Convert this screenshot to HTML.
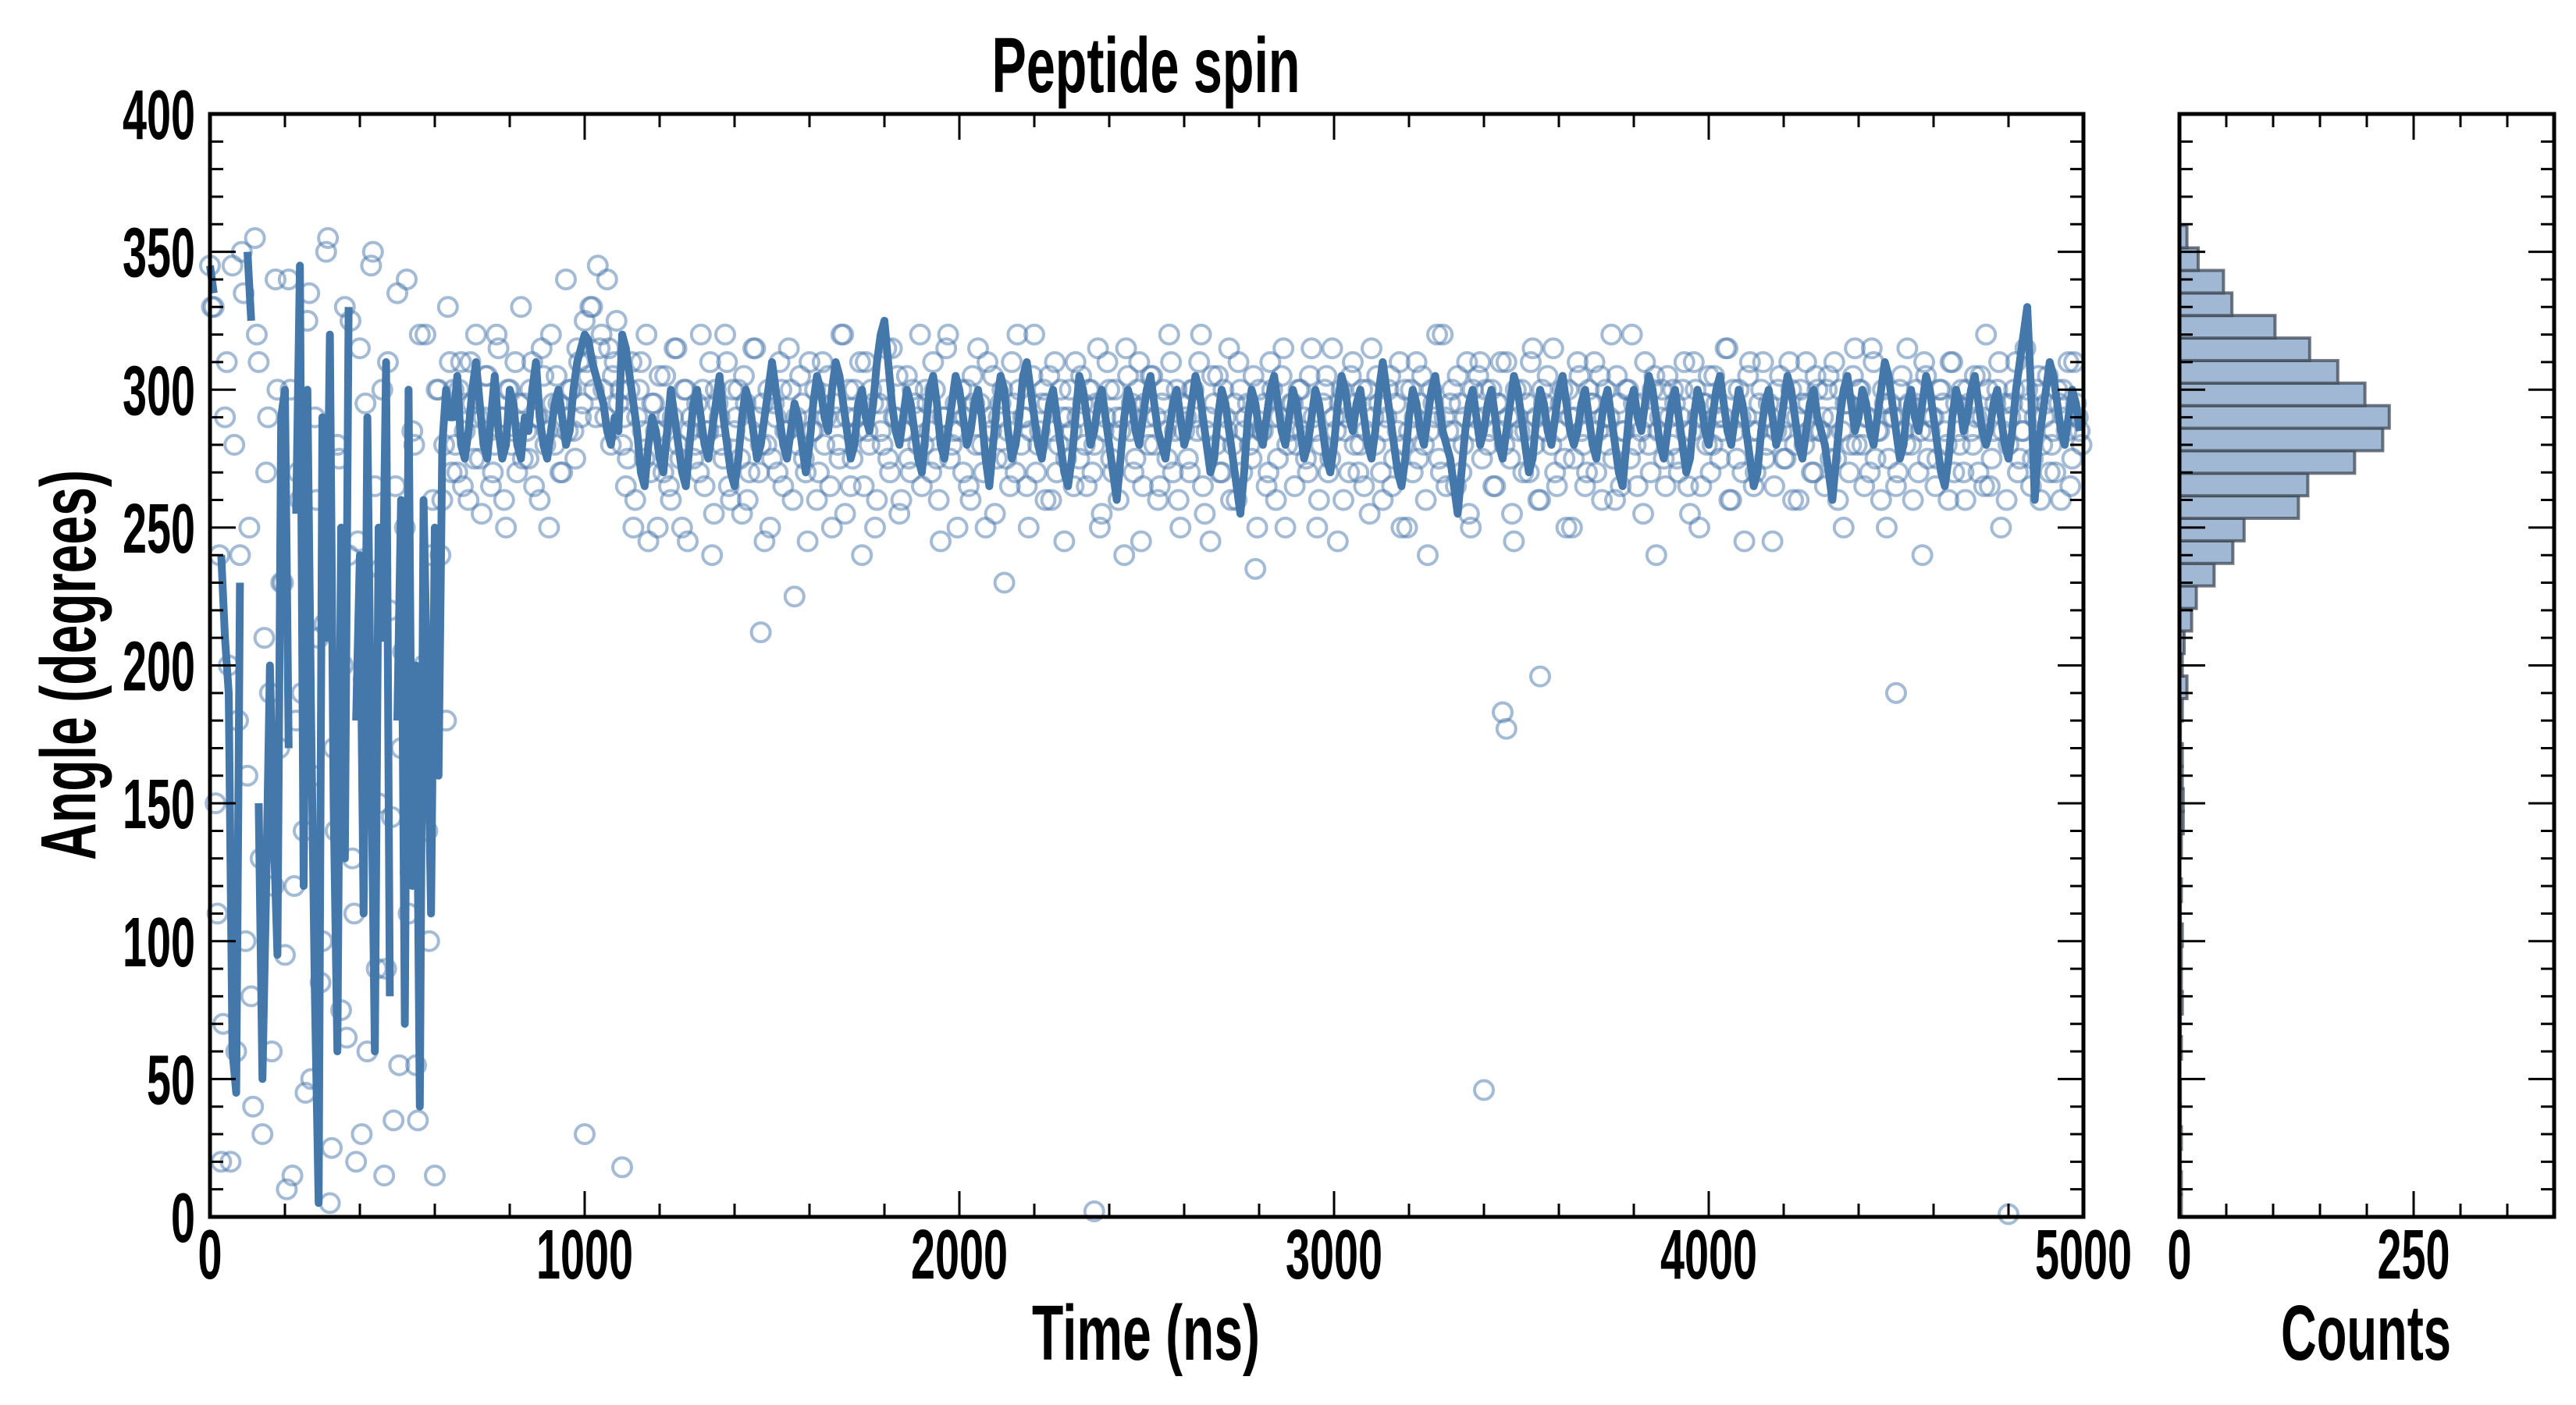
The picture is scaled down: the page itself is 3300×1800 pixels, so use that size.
<!DOCTYPE html>
<html><head><meta charset="utf-8"><style>
html,body{margin:0;padding:0;background:#fff}
svg{display:block}
text{font-family:"Liberation Sans",sans-serif;font-weight:bold;fill:#000}
</style></head><body>
<svg id="fig" width="3300" height="1800" viewBox="0 0 3300 1800" xmlns="http://www.w3.org/2000/svg">
<g id="main"></g>
<g id="hist"></g>
<text x="1468" y="118" font-size="100" text-anchor="middle" textLength="395" lengthAdjust="spacingAndGlyphs">Peptide spin</text>
<text x="1468" y="1742" font-size="100" text-anchor="middle" textLength="292" lengthAdjust="spacingAndGlyphs">Time (ns)</text>
<text x="3031" y="1742" font-size="100" text-anchor="middle" textLength="218" lengthAdjust="spacingAndGlyphs">Counts</text>
<text x="0" y="0" font-size="100" text-anchor="middle" textLength="500" lengthAdjust="spacingAndGlyphs" transform="translate(122,852) rotate(-90)">Angle (degrees)</text>
</svg>
<script>
const sampleStep = 10;
const scatterAngles = [345,330,110,20,290,200,345,60,240,335,160,80,355,310,30,270,190,120,300,230,95,340,15,180,260,140,325,50,290,210,100,350,5,170,280,75,330,240,130,20,315,195,60,345,265,150,300,90,220,35,335,170,250,110,285,55,320,200,140,240,15,300,260,180,310,
300,270,310,285,260,295,320,275,290,305,265,280,315,290,250,300,285,270,330,295,275,310,290,260,305,285,320,280,295,270,340,300,285,315,290,
325,305,330,290,315,300,340,280,310,295,
280,265,300,250,290,310,275,245,295,285,305,270,290,260,315,280,250,300,285,275,295,320,265,285,240,300,290,275,310,260,285,300,255,295,270,315,290,280,245,300,
275,290,310,265,285,300,225,280,295,270,310,285,260,295,280,305,250,290,275,320,290,265,300,285,240,310,280,295,260,285,300,275,315,290,255,285,305,270,295,280,
265,300,285,310,275,245,290,320,280,295,285,270,300,260,295,315,280,250,290,305,275,295,230,285,310,270,300,290,265,285,320,280,295,260,305,285,270,300,245,290,
285,310,275,295,265,300,280,315,255,290,300,270,290,285,240,305,295,275,310,265,290,305,280,260,295,285,320,270,300,250,285,275,300,290,310,265,285,245,295,305,
270,290,315,280,260,300,285,295,275,235,300,285,265,310,290,275,305,250,285,295,280,300,290,270,315,285,260,295,305,275,290,245,300,285,270,310,295,280,265,300,
315,280,295,260,290,305,275,285,250,300,285,270,310,295,280,240,300,290,275,320,265,295,285,305,270,290,255,300,285,310,290,280,300,265,295,285,310,275,245,290,
300,285,270,315,290,260,295,305,280,270,285,300,250,290,275,310,285,265,300,295,270,305,290,280,320,260,295,285,300,275,295,265,285,310,280,300,240,290,275,305,
280,295,270,300,285,255,310,290,265,295,305,280,295,275,290,315,260,285,300,270,290,310,265,285,300,275,295,245,285,305,275,290,300,280,260,295,310,285,270,300,
285,265,305,290,275,300,250,295,280,315,300,280,290,270,310,285,260,295,275,290,265,300,285,315,280,295,270,240,305,285,290,275,300,285,260,310,295,280,270,300,
285,305,270,290,320,265,285,300,250,295,280,295,310,275,285,300,265,290,305,280,295,270,285,300,260,290,310,275,295,285];
const scatterAngles2 = [330,150,240,70,310,20,280,180,350,100,250,40,320,130,210,290,60,340,170,230,10,300,120,270,190,45,335,160,260,85,215,355,25,140,275,200,65,325,110,245,30,295,175,350,90,235,15,310,145,265,55,205,340,125,280,35,190,320,100,260,300,240,280,330,270,
280,300,265,295,310,275,290,255,305,285,270,320,290,260,300,280,310,295,275,285,300,265,290,315,280,250,295,305,270,290,285,300,275,310,295,
310,330,300,345,320,290,315,305,325,300,
290,275,310,260,300,285,320,270,295,250,285,305,265,290,315,275,300,245,290,280,270,300,285,310,255,295,280,320,265,300,290,275,305,260,285,315,270,295,280,250,
295,270,300,285,315,260,290,305,275,245,285,300,270,310,290,265,295,280,320,255,300,275,290,310,265,285,300,250,295,280,315,270,290,305,260,285,275,300,290,320,
280,295,270,300,260,290,315,275,285,250,300,290,265,305,280,295,270,310,285,255,290,300,275,265,295,320,280,290,250,305,270,285,300,295,260,310,280,290,275,300,
265,290,305,280,300,270,295,250,285,310,275,300,260,290,315,285,270,300,245,295,280,305,290,265,300,275,310,285,260,295,290,270,300,285,320,255,290,305,280,270,
300,285,260,295,310,270,290,280,305,250,285,295,270,300,260,290,315,280,295,265,300,285,275,305,290,250,280,300,270,315,285,295,260,290,305,280,270,300,285,255,
290,305,270,285,300,265,295,310,280,250,300,290,275,305,260,285,295,320,270,290,285,300,265,295,280,310,250,290,305,275,300,285,265,295,310,280,290,255,300,285,
270,295,310,280,260,300,285,290,315,265,295,275,300,250,290,305,280,270,295,310,285,260,300,290,275,305,265,285,300,320,280,295,255,290,270,305,285,300,265,290,
300,275,290,310,265,285,300,250,295,280,270,305,290,285,315,260,300,275,290,245,305,285,270,295,310,280,290,265,300,285,275,310,260,290,300,280,295,270,305,285,
290,300,275,310,260,285,295,270,305,280,300,265,290,315,275,285,300,250,295,290,270,305,280,295,260,300,285,310,275,290,265,300,295,280,310,270,285,300,260,295,
280,290,305,265,300,275,295,310,285,260,290,300,270,285,315,295,275,300,260,290,305,280,270,295,300,285,265,310,290,280];
const outlierTimes = [1000,1100,3400,3450,3460,3550,2360,4800,1470,4500];
const outlierAngles = [30,18,46,183,177,196,2,1,212,190];
const lineAngles = [345,335,null,240,210,190,60,45,230,null,350,325,null,150,50,120,200,140,95,290,300,170,null,255,345,120,300,180,80,5,290,210,320,150,60,250,130,330,null,180,240,110,290,170,60,250,210,310,80,null,180,260,70,300,120,200,40,260,190,110,250,160,280,300,290,
290,305,280,275,285,300,310,295,280,275,290,305,285,275,280,300,295,280,275,290,285,300,310,290,280,275,285,295,300,290,280,285,300,310,315,
320,318,310,305,300,295,285,280,290,285,
320,315,305,295,285,270,265,280,290,285,275,270,285,300,290,280,270,265,280,295,300,290,280,275,285,295,305,290,280,270,265,275,290,300,295,285,275,280,290,300,
310,300,290,280,275,285,295,290,280,270,280,295,305,300,290,285,300,310,305,295,285,275,280,295,300,290,285,295,310,320,325,310,295,285,280,290,300,295,285,275,
270,285,300,305,295,280,275,285,295,305,300,290,280,285,295,300,290,275,265,280,295,305,300,285,275,280,290,305,310,300,290,280,275,285,295,300,290,280,270,265,
275,290,305,300,290,280,285,295,300,290,280,270,260,275,290,300,295,285,280,290,300,305,295,285,280,275,285,295,300,290,280,285,295,305,300,290,280,270,275,290,
300,295,285,275,265,255,270,290,300,295,285,280,290,300,305,295,285,280,290,300,295,285,275,280,290,300,295,285,275,270,280,295,305,300,290,285,295,300,290,280,
275,285,300,310,300,290,280,270,265,275,290,300,295,285,280,290,300,305,295,285,280,275,265,255,270,285,295,300,290,280,285,295,300,290,280,275,285,295,305,300,
290,280,270,275,290,300,295,285,280,290,300,305,295,285,280,285,295,300,290,280,275,285,295,300,290,280,270,265,280,295,300,290,285,295,305,300,290,280,275,285,
295,300,290,280,270,275,290,300,295,285,280,290,300,305,295,285,280,290,300,295,285,275,265,270,285,295,300,290,280,285,295,305,300,290,280,275,285,295,300,290,
285,280,270,260,275,290,300,305,295,285,290,300,295,285,280,290,300,310,305,295,285,275,280,295,300,290,285,295,305,300,290,280,270,265,275,290,300,295,285,290,
300,305,295,285,280,285,295,300,290,280,275,285,300,310,320,330,300,260,280,290,300,310,305,295,285,280,290,300,295,285];
const histCounts = [2,2,1,2,1,1,0,2,1,3,2,2,3,1,2,0,2,4,4,3,3,1,3,8,3,5,13,18,37,57,69,127,137,187,217,224,198,169,139,102,56,47,20,8];
const histMin = 0, histMax = 359.6;
const yTicks = [0,50,100,150,200,250,300,350,400];
const xTicks = [0,1000,2000,3000,4000,5000];
const countTickLabels = [0,250];

const NS='http://www.w3.org/2000/svg';
const M={x0:269,x1:2669,y0:146,y1:1559}, H={x0:2792,x1:3272};
const xs=t=>M.x0+(t/5000)*(M.x1-M.x0);
const ys=a=>M.y1-(a/400)*(M.y1-M.y0);
const hx=c=>H.x0+(c/400)*(H.x1-H.x0);
function el(tag,attrs,parent){const e=document.createElementNS(NS,tag);for(const k in attrs)e.setAttribute(k,attrs[k]);parent.appendChild(e);return e;}
const main=document.getElementById('main'), hist=document.getElementById('hist');

const sg=el('g',{},main);


function dot(t,a,name){const c=el('circle',{cx:xs(t),cy:ys(a),r:12,fill:'none',stroke:'#4a78ab','stroke-width':4,'stroke-opacity':0.5},sg);

}
scatterAngles.forEach((a,i)=>dot(i*sampleStep,a,'scatter-point'));
scatterAngles2.forEach((a,i)=>dot(i*sampleStep+5,a,'scatter-point'));
outlierAngles.forEach((a,i)=>dot(outlierTimes[i],a,'outlier-point'));
let d='',pen=false;
lineAngles.forEach((a,i)=>{if(a===null){pen=false;return;}d+=(pen?'L':'M')+xs(i*sampleStep).toFixed(1)+','+ys(a).toFixed(1);pen=true;});
const ln=el('path',{d:d,fill:'none',stroke:'#4477aa','stroke-width':10,'stroke-linejoin':'round'},main);



const bw=(histMax-histMin)/histCounts.length;
histCounts.forEach((c,i)=>{if(c<=0)return;const lo=histMin+i*bw,hi=lo+bw;
const r=el('rect',{x:H.x0,y:ys(hi),width:hx(c)-H.x0,height:ys(lo)-ys(hi),fill:'#a0b8d3',stroke:'#404a55','stroke-width':4,'stroke-opacity':0.75},hist);

});

function ticksY(parent,xl,xr){for(let v=0;v<=400;v+=10){const maj=v%50===0,L=maj?33:17,y=ys(v);
el('line',{x1:xl,y1:y,x2:xl+L,y2:y,stroke:'#000','stroke-width':3},parent);
el('line',{x1:xr,y1:y,x2:xr-L,y2:y,stroke:'#000','stroke-width':3},parent);}}
ticksY(main,M.x0,M.x1);
for(let t=0;t<=5000;t+=200){const maj=t%1000===0,L=maj?33:17,x=xs(t);
el('line',{x1:x,y1:M.y1,x2:x,y2:M.y1-L,stroke:'#000','stroke-width':3},main);
el('line',{x1:x,y1:M.y0,x2:x,y2:M.y0+L,stroke:'#000','stroke-width':3},main);}
const fr=el('rect',{x:M.x0,y:M.y0,width:M.x1-M.x0,height:M.y1-M.y0,fill:'none',stroke:'#000','stroke-width':5},main);


function lbl(parent,x,y,v,anchor,name){const s=String(v);const t=el('text',{x:x,y:y,'font-size':90,'text-anchor':anchor,textLength:31*s.length,lengthAdjust:'spacingAndGlyphs'},parent);t.textContent=s;

}
yTicks.forEach(v=>lbl(main,250,ys(v)+32,v,'end','y-tick-label'));
xTicks.forEach(v=>lbl(main,xs(v),1638,v,'middle','x-tick-label'));
ticksY(hist,H.x0,H.x1);
for(let c=0;c<=400;c+=50){const maj=c%250===0,L=maj?33:17,x=hx(c);
el('line',{x1:x,y1:M.y1,x2:x,y2:M.y1-L,stroke:'#000','stroke-width':3},hist);
el('line',{x1:x,y1:M.y0,x2:x,y2:M.y0+L,stroke:'#000','stroke-width':3},hist);}
const hf=el('rect',{x:H.x0,y:M.y0,width:H.x1-H.x0,height:M.y1-M.y0,fill:'none',stroke:'#000','stroke-width':5},hist);


countTickLabels.forEach(v=>lbl(hist,hx(v),1638,v,'middle','count-tick-label'));
</script>
</body></html>
